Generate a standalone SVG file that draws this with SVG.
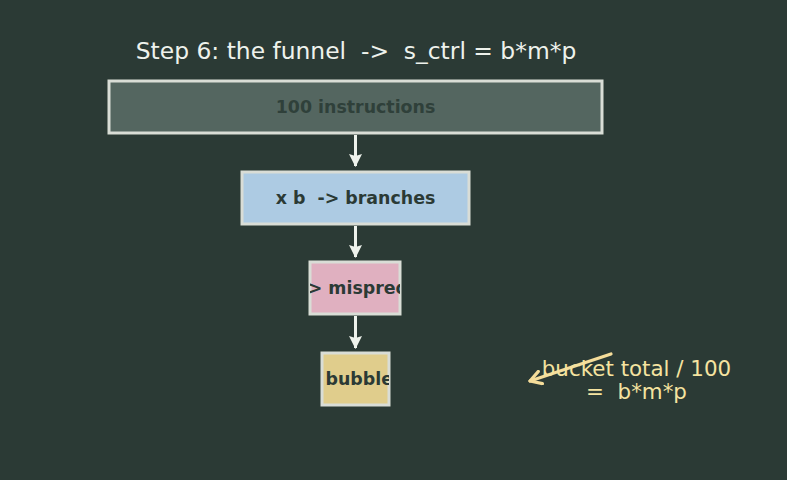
<svg xmlns="http://www.w3.org/2000/svg" width="787" height="480" viewBox="0 0 787 480">
<style>
text{white-space:pre}
.node rect{stroke:#d9ddd6;stroke-width:3}
.lbl{font-family:"DejaVu Sans",sans-serif;font-weight:bold;font-size:17.4px;fill:#2b3a35}
.conn line{stroke:#eef2ec;stroke-width:3}
.note{font-family:"DejaVu Sans",sans-serif;font-size:21.4px;fill:#f5e3a0;text-anchor:middle}
</style>
<defs>
<marker id="ah" markerWidth="14" markerHeight="14" refX="12" refY="7" orient="auto" markerUnits="userSpaceOnUse" viewBox="0 0 14 14">
<path d="M0,0.5 L13,7 L0,13.5 L2,7 Z" fill="#eef2ec"/>
</marker>
<marker id="ahy" markerWidth="16" markerHeight="16" refX="13" refY="8" orient="auto" markerUnits="userSpaceOnUse" viewBox="0 0 16 16">
<path d="M2,1.5 L13,8 L2,14.5" fill="none" stroke="#f5dd9a" stroke-width="3.2" stroke-linecap="round" stroke-linejoin="round"/>
</marker>
<clipPath id="c3"><rect x="310" y="262" width="90" height="52"/></clipPath>
<clipPath id="c4"><rect x="322" y="353" width="67" height="52"/></clipPath>
</defs>
<rect width="787" height="480" fill="#2b3a35"/>
<text x="356" y="59" font-family="DejaVu Sans, sans-serif" font-size="23.4" fill="#eef2ec" text-anchor="middle" xml:space="preserve">Step 6: the funnel  -&gt;  s_ctrl = b*m*p</text>
<g class="conn">
<line x1="355.5" y1="135" x2="355.5" y2="166" marker-end="url(#ah)"/>
<line x1="355.5" y1="226" x2="355.5" y2="257" marker-end="url(#ah)"/>
<line x1="355.5" y1="316" x2="355.5" y2="348" marker-end="url(#ah)"/>
</g>
<g id="n1" class="node">
<rect x="109" y="81" width="493" height="52" fill="#546660"/>
<text class="lbl" x="355.5" y="113" text-anchor="middle" style="fill:#2f403a">100 instructions</text>
</g>
<g id="n2" class="node">
<rect x="242" y="172" width="227" height="52" fill="#adcbe3"/>
<text class="lbl" x="355.5" y="204" text-anchor="middle" xml:space="preserve">x b  -&gt; branches</text>
</g>
<g id="n3" class="node">
<rect x="310" y="262" width="90" height="52" fill="#e0b0c0"/>
<text class="lbl" x="253" y="294" clip-path="url(#c3)" xml:space="preserve">x m  -&gt; mispredicts</text>
</g>
<g id="n4" class="node">
<rect x="322" y="353" width="67" height="52" fill="#e0cd8c"/>
<text class="lbl" x="325.5" y="385" clip-path="url(#c4)">bubble</text>
</g>
<g id="note">
<line x1="611" y1="354" x2="530" y2="381" stroke="#f5dd9a" stroke-width="3.2" stroke-linecap="round" marker-end="url(#ahy)"/>
<text class="note" x="636.5" y="376">bucket total / 100</text>
<text class="note" x="636.5" y="399" xml:space="preserve">=  b*m*p</text>
</g>
</svg>
